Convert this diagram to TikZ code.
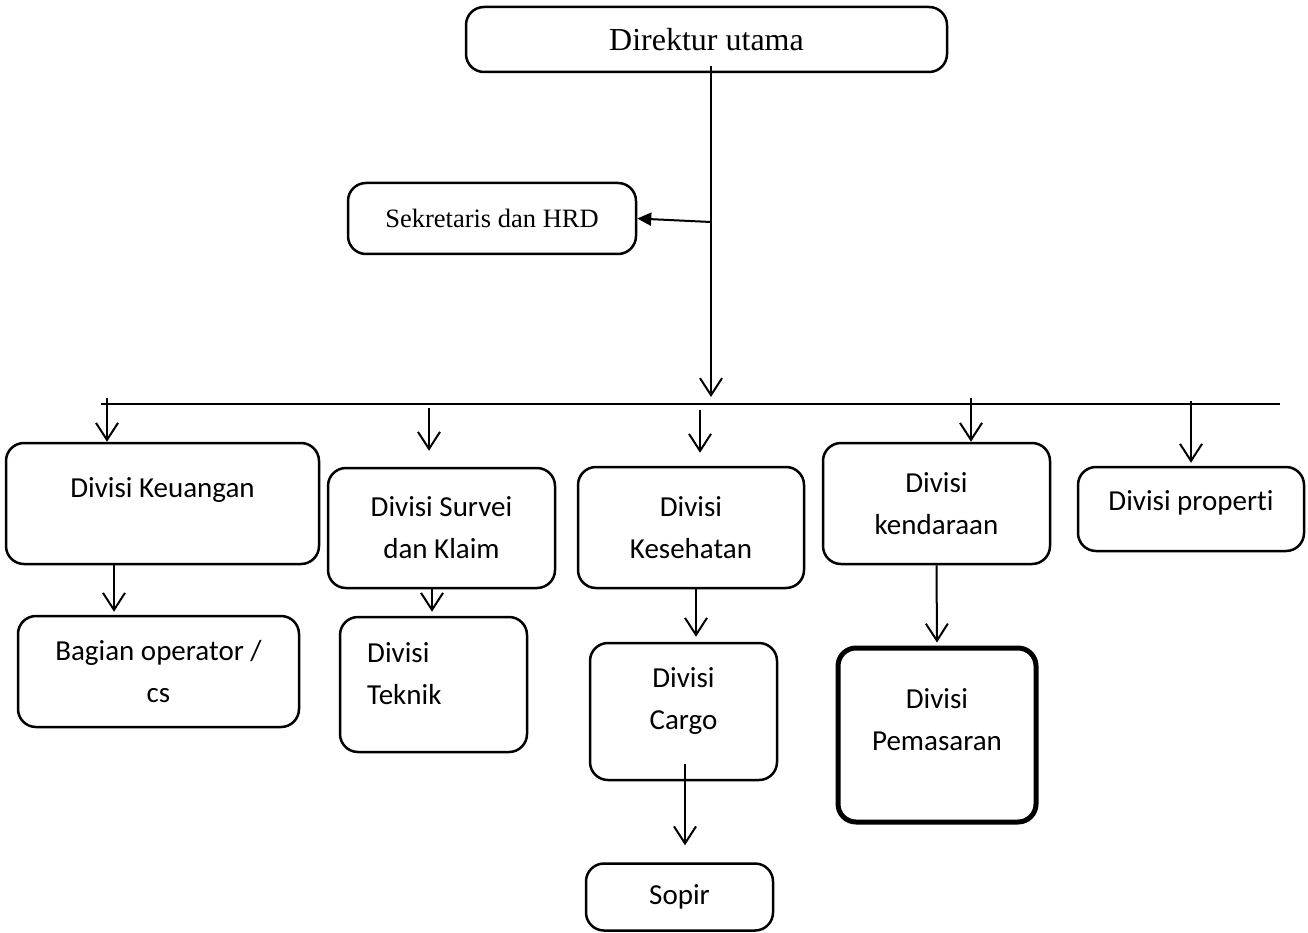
\documentclass[tikz,border=0pt]{standalone}
\usepackage{fontspec}
\setmainfont{Liberation Serif}
\newfontfamily\calibri[Ligatures=NoCommon]{Carlito}
\usetikzlibrary{arrows.meta}
\tikzset{
  orgbox/.style={draw, line width=2.5pt, rounded corners=18pt, inner sep=0pt, align=center},
  divtxt/.style={font=\calibri\fontsize{29}{42}\selectfont, align=center, inner sep=0pt},
  barb/.style={line width=2pt, -{Straight Barb[length=17pt,width=22pt]}},
}
\begin{document}
\begin{tikzpicture}[x=1pt, y=-1pt]
\useasboundingbox (0,0) rectangle (1308,933);
% top
\node[orgbox, minimum width=481pt, minimum height=65pt, font=\fontsize{32}{38}\selectfont] (dir) at (706.5,39.5) {Direktur utama};
\node[orgbox, minimum width=288pt, minimum height=71pt, font=\fontsize{26.5}{32}\selectfont] (sek) at (492,218.5) {Sekretaris dan HRD};
% divisi
\node[orgbox, divtxt, minimum width=313pt, minimum height=121pt, label={[divtxt,yshift=13.5pt]center:Divisi Keuangan}] (keu) at (162.5,503.5) {};
\node[orgbox, divtxt, minimum width=281pt, minimum height=111pt] (bag) at (158.5,671.5) {Bagian operator /\\cs};
\node[orgbox, divtxt, minimum width=227pt, minimum height=120pt] (sur) at (441.5,528) {Divisi Survei\\dan Klaim};
\node[orgbox, minimum width=187pt, minimum height=135pt] (tek) at (433.5,684.5) {};
\node[divtxt, align=left, anchor=west] (tekt) at ([xshift=-66.5pt,yshift=11pt]tek.center) {Divisi\\Teknik};
\node[orgbox, divtxt, minimum width=226pt, minimum height=121pt] (kes) at (691,527.5) {Divisi\\Kesehatan};
\node[orgbox, minimum width=187pt, minimum height=137pt, label={[divtxt,yshift=10pt]center:{Divisi\\Cargo}}] (car) at (683.5,711.5) {};
\node[orgbox, divtxt, minimum width=187pt, minimum height=67pt] (sop) at (679.5,897) {Sopir};
\node[orgbox, divtxt, minimum width=227pt, minimum height=121pt] (ken) at (936.5,503.5) {Divisi\\kendaraan};
\node[orgbox, line width=5pt, minimum width=198pt, minimum height=174pt, label={[divtxt,yshift=15pt]center:{Divisi\\Pemasaran}}] (pem) at (937,735) {};
\node[orgbox, minimum width=226pt, minimum height=84pt, label={[divtxt,yshift=6pt]center:Divisi properti}] (pro) at (1191,509) {};
% trunk
\coordinate (ttop) at (711,66);
\coordinate (tend) at (711,397);
\coordinate (tsek) at (711,222);
\draw[barb] (ttop) -- (tend);
\draw[line width=2pt, -{Triangle[length=14pt,width=13pt]}] (tsek) -- (sek.east);
\coordinate (barL) at (101,404);
\coordinate (barR) at (1280,404);
\draw[line width=1.3pt] (barL) -- (barR);
% from bar
\coordinate (bkeu) at (107,398);
\coordinate (bsur) at (429,408);
\coordinate (bkes) at (700,410);
\coordinate (bken) at (971,398);
\coordinate (bpro) at (1191,401);
\draw[barb] (bkeu) -- (bkeu |- keu.north);
\draw[barb, shorten >=16pt] (bsur) -- (bsur |- sur.north);
\draw[barb, shorten >=13pt] (bkes) -- (bkes |- kes.north);
\draw[barb] (bken) -- (bken |- ken.north);
\draw[barb, shorten >=3pt] (bpro) -- (bpro |- pro.north);
% lower level
\draw[barb, shorten >=3pt] ([xshift=-48.5pt]keu.south) -- ([xshift=-48.5pt]keu.south |- bag.north);
\draw[barb, shorten >=4pt] ([xshift=-9.5pt]sur.south) -- ([xshift=-9.5pt]sur.south |- tek.north);
\draw[barb, shorten >=5pt] ([xshift=5pt]kes.south) -- ([xshift=5pt]kes.south |- car.north);
\draw[barb, shorten >=17pt] ([xshift=1.5pt,yshift=17pt]car.south) -- ([xshift=1.5pt]car.south |- sop.north);
\draw[barb, shorten >=3pt] (ken.south) -- (pem.north);
\end{tikzpicture}
\end{document}
